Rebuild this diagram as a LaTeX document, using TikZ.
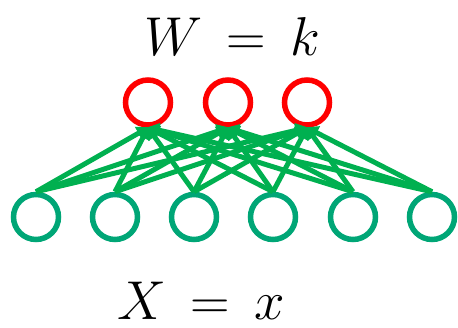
\documentclass[tikz,border=0pt]{standalone}
\usetikzlibrary{arrows.meta}
\definecolor{hidred}{RGB}{255,0,0}
\definecolor{visgreen}{RGB}{0,166,118}
\definecolor{arrgreen}{RGB}{0,176,80}
\begin{document}
\begin{tikzpicture}[x=1pt,y=-1pt,
  hid/.style={circle,draw=hidred,line width=5.5pt,minimum size=45pt,inner sep=0pt},
  vis/.style={circle,draw=visgreen,line width=5.5pt,minimum size=45pt,inner sep=0pt},
  conn/.style={draw=arrgreen,line width=5pt,-{Triangle[length=12pt,width=14pt]},shorten >=-1pt},
  lbl/.style={inner sep=0pt,font=\Huge,scale=2.2}]
\useasboundingbox (0,0) rectangle (458,328);
\node[hid] (h1) at (148,102.5) {};
\node[hid] (h2) at (228,102.5) {};
\node[hid] (h3) at (307,102.5) {};
\foreach \i/\x in {1/36,2/115,3/194,4/273,5/353,6/432}{
  \node[vis] (v\i) at (\x,217) {};
}
\foreach \i in {1,...,6}{
  \foreach \j in {1,2,3}{
    \draw[conn] (v\i.north) -- (h\j.south);
  }
}
\node[lbl] (wk) at (232,36) {$W\,=\,k$};
\node[lbl] (xx) at (201,301) {$X\,=\,x$};
\end{tikzpicture}
\end{document}
